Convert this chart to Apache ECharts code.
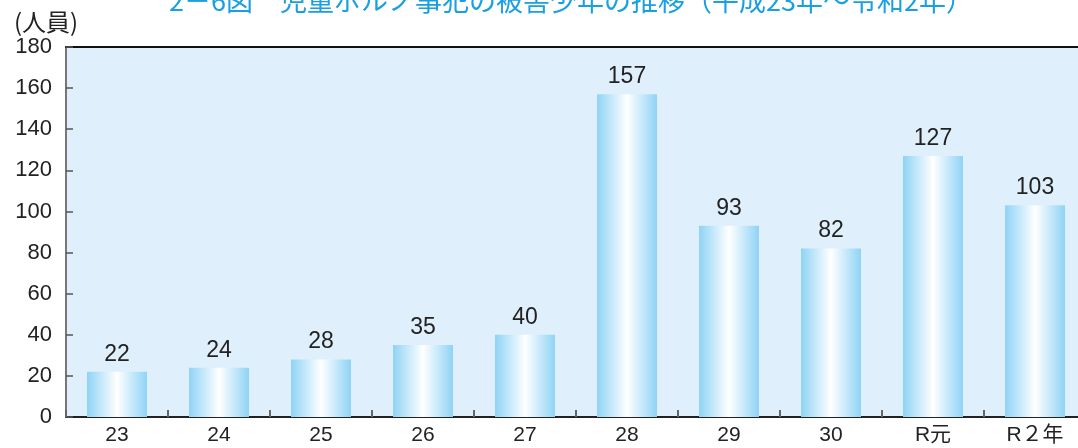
<!DOCTYPE html>
<html>
<head>
<meta charset="utf-8">
<script src="https://cdn.jsdelivr.net/npm/echarts@6/dist/echarts.min.js"></script>
<style>
  html, body { margin: 0; padding: 0; background: #ffffff; overflow: hidden; }
  #chart { width: 1090px; height: 448px; }
</style>
</head>
<body>
<div id="chart"></div>
<script>
// 児童ポルノ事犯の被害少年（人員）
const categories = ['23', '24', '25', '26', '27', '28', '29', '30', 'R元', 'R２年'];
const victims = [22, 24, 28, 35, 40, 157, 93, 82, 127, 103];
const yTicks = { min: 0, max: 180, interval: 20 };
const titleText = '2－6図　児童ポルノ事犯の被害少年の推移（平成23年～令和2年）';
const unitText = '(人員)';

const fontFamily = '"Liberation Sans", Arial, "Noto Sans CJK JP", sans-serif';

const barGradient = new echarts.graphic.LinearGradient(0, 0, 1, 0, [
  { offset: 0, color: '#8fd3f5' },
  { offset: 0.5, color: '#ffffff' },
  { offset: 1, color: '#8fd3f5' }
]);

const chart = echarts.init(document.getElementById('chart'), null, { renderer: 'canvas' });
chart.setOption({
  animation: false,
  backgroundColor: '#ffffff',
  title: [
    {
      text: titleText,
      left: 566, textAlign: 'center', top: -18,
      textStyle: { color: '#1a9fe0', fontSize: 27, fontWeight: 'normal', fontFamily: '"Noto Sans CJK JP", sans-serif' }
    },
    {
      text: unitText,
      left: 9, top: 5,
      textStyle: { color: '#222', fontSize: 24, fontWeight: 'normal', fontFamily: '"Noto Sans CJK JP", sans-serif' }
    }
  ],
  grid: {
    left: 66, top: 47, width: 1020, bottom: 31,
    show: true, backgroundColor: '#dff0fc', borderWidth: 0
  },
  xAxis: [
    {
      type: 'category',
      data: categories,
      axisLine: { lineStyle: { color: '#222', width: 2 } },
      axisTick: { show: true, inside: true, length: 7, alignWithLabel: false, lineStyle: { color: '#666', width: 2 } },
      axisLabel: { color: '#222', fontSize: 21, margin: 8, fontFamily: fontFamily }
    },
    {
      type: 'category',
      position: 'top',
      data: categories,
      axisLine: { lineStyle: { color: '#111', width: 2 } },
      axisTick: { show: false },
      axisLabel: { show: false }
    }
  ],
  yAxis: {
    type: 'value',
    min: yTicks.min, max: yTicks.max, interval: yTicks.interval,
    axisLine: { show: true, lineStyle: { color: '#777', width: 2 } },
    axisTick: { show: true, inside: true, length: 7, lineStyle: { color: '#555', width: 1.5 } },
    splitLine: { show: false },
    axisLabel: { color: '#222', fontSize: 22, margin: 14, fontFamily: fontFamily }
  },
  series: [{
    type: 'bar',
    data: victims,
    barWidth: 60,
    itemStyle: { color: barGradient },
    label: {
      show: true, position: 'top', distance: 6,
      color: '#222', fontSize: 23, fontFamily: fontFamily
    }
  }]
});
</script>
</body>
</html>
